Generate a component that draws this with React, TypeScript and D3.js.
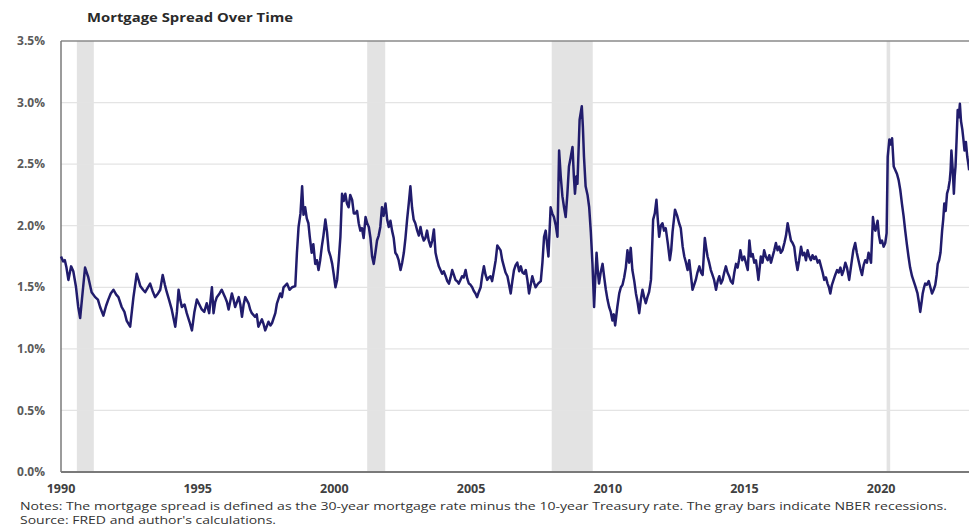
import React from 'react';
import * as d3 from 'd3';

// Mortgage spread (30-yr mortgage minus 10-yr Treasury), [year, %]
const spread: [number, number][] = [
  [1990.0, 1.75], [1990.08, 1.71], [1990.14, 1.72], [1990.2, 1.66], [1990.27, 1.56], [1990.37, 1.67], [1990.45, 1.63], [1990.55, 1.5],
  [1990.63, 1.34], [1990.7, 1.25], [1990.8, 1.48], [1990.88, 1.66], [1991.0, 1.58], [1991.12, 1.46], [1991.25, 1.42], [1991.35, 1.4],
  [1991.43, 1.34], [1991.55, 1.27], [1991.65, 1.35], [1991.73, 1.4], [1991.82, 1.45], [1991.92, 1.48], [1992.02, 1.44], [1992.1, 1.42],
  [1992.22, 1.34], [1992.32, 1.3], [1992.4, 1.23], [1992.53, 1.18], [1992.6, 1.32], [1992.65, 1.42], [1992.77, 1.61], [1992.85, 1.55],
  [1992.9, 1.51], [1993.0, 1.48], [1993.08, 1.46], [1993.18, 1.5], [1993.26, 1.53], [1993.35, 1.47], [1993.44, 1.42], [1993.55, 1.45],
  [1993.63, 1.48], [1993.72, 1.6], [1993.8, 1.52], [1993.87, 1.46], [1993.95, 1.4], [1994.05, 1.32], [1994.18, 1.18], [1994.24, 1.3],
  [1994.3, 1.48], [1994.36, 1.4], [1994.42, 1.34], [1994.52, 1.36], [1994.6, 1.29], [1994.7, 1.22], [1994.79, 1.15], [1994.88, 1.3],
  [1994.97, 1.4], [1995.06, 1.36], [1995.15, 1.32], [1995.24, 1.3], [1995.33, 1.37], [1995.42, 1.29], [1995.52, 1.5], [1995.58, 1.29],
  [1995.64, 1.38], [1995.7, 1.42], [1995.8, 1.45], [1995.88, 1.48], [1996.0, 1.42], [1996.07, 1.38], [1996.13, 1.32], [1996.25, 1.45],
  [1996.31, 1.4], [1996.37, 1.34], [1996.5, 1.42], [1996.56, 1.36], [1996.62, 1.26], [1996.68, 1.36], [1996.74, 1.42], [1996.86, 1.37],
  [1996.92, 1.32], [1996.98, 1.29], [1997.1, 1.26], [1997.16, 1.28], [1997.22, 1.18], [1997.35, 1.24], [1997.41, 1.2], [1997.47, 1.15],
  [1997.59, 1.22], [1997.66, 1.19], [1997.72, 1.21], [1997.84, 1.29], [1997.9, 1.37], [1998.02, 1.45], [1998.08, 1.42], [1998.14, 1.5],
  [1998.27, 1.53], [1998.36, 1.48], [1998.45, 1.5], [1998.57, 1.51], [1998.63, 1.78], [1998.69, 1.99], [1998.76, 2.1], [1998.82, 2.32],
  [1998.87, 2.09], [1998.93, 2.15], [1998.99, 2.06], [1999.05, 2.02], [1999.1, 1.91], [1999.17, 1.78], [1999.23, 1.85], [1999.3, 1.69],
  [1999.36, 1.72], [1999.42, 1.64], [1999.48, 1.72], [1999.54, 1.83], [1999.6, 1.92], [1999.67, 2.05], [1999.73, 1.95], [1999.79, 1.8],
  [1999.86, 1.75], [1999.92, 1.69], [1999.98, 1.6], [2000.04, 1.5], [2000.1, 1.56], [2000.16, 1.72], [2000.22, 1.91], [2000.28, 2.26],
  [2000.34, 2.2], [2000.4, 2.26], [2000.46, 2.18], [2000.52, 2.15], [2000.58, 2.25], [2000.65, 2.21], [2000.71, 2.1], [2000.77, 2.1],
  [2000.83, 2.12], [2000.89, 2.02], [2000.95, 1.96], [2001.01, 1.98], [2001.07, 1.9], [2001.14, 2.07], [2001.2, 2.02], [2001.26, 1.99],
  [2001.32, 1.9], [2001.38, 1.75], [2001.44, 1.69], [2001.5, 1.78], [2001.56, 1.88], [2001.62, 1.92], [2001.68, 1.99], [2001.74, 2.15],
  [2001.8, 2.08], [2001.87, 2.18], [2001.93, 2.05], [2001.99, 1.99], [2002.05, 2.04], [2002.11, 1.96], [2002.17, 1.9], [2002.23, 1.78],
  [2002.29, 1.76], [2002.35, 1.72], [2002.42, 1.64], [2002.48, 1.7], [2002.54, 1.78], [2002.6, 1.9], [2002.66, 2.05], [2002.72, 2.18],
  [2002.78, 2.32], [2002.84, 2.15], [2002.9, 2.05], [2002.96, 2.02], [2003.03, 1.96], [2003.09, 1.92], [2003.15, 1.99], [2003.21, 1.92],
  [2003.27, 1.88], [2003.33, 1.9], [2003.39, 1.96], [2003.45, 1.88], [2003.52, 1.83], [2003.58, 1.88], [2003.64, 1.97], [2003.7, 1.78],
  [2003.76, 1.72], [2003.82, 1.67], [2003.88, 1.64], [2003.94, 1.61], [2004.0, 1.63], [2004.07, 1.59], [2004.13, 1.55], [2004.19, 1.53],
  [2004.25, 1.58], [2004.31, 1.64], [2004.37, 1.6], [2004.43, 1.56], [2004.49, 1.55], [2004.55, 1.53], [2004.61, 1.56], [2004.67, 1.59],
  [2004.73, 1.58], [2004.8, 1.64], [2004.86, 1.57], [2004.92, 1.53], [2004.98, 1.52], [2005.04, 1.5], [2005.1, 1.47], [2005.16, 1.45],
  [2005.22, 1.42], [2005.28, 1.46], [2005.35, 1.5], [2005.41, 1.6], [2005.47, 1.67], [2005.53, 1.6], [2005.59, 1.56], [2005.65, 1.58],
  [2005.71, 1.59], [2005.77, 1.55], [2005.84, 1.64], [2005.9, 1.72], [2005.96, 1.84], [2006.02, 1.82], [2006.08, 1.8], [2006.14, 1.72],
  [2006.2, 1.67], [2006.26, 1.62], [2006.33, 1.59], [2006.39, 1.52], [2006.45, 1.45], [2006.51, 1.55], [2006.57, 1.64], [2006.63, 1.68],
  [2006.69, 1.7], [2006.76, 1.63], [2006.82, 1.67], [2006.88, 1.62], [2006.94, 1.61], [2007.0, 1.64], [2007.06, 1.56], [2007.12, 1.45],
  [2007.18, 1.52], [2007.24, 1.59], [2007.3, 1.54], [2007.36, 1.5], [2007.45, 1.53], [2007.55, 1.55], [2007.61, 1.7], [2007.67, 1.91],
  [2007.73, 1.96], [2007.78, 1.85], [2007.83, 1.75], [2007.87, 1.95], [2007.91, 2.15], [2007.97, 2.1], [2008.03, 2.07], [2008.1, 2.0],
  [2008.16, 1.91], [2008.22, 2.61], [2008.28, 2.4], [2008.34, 2.24], [2008.4, 2.15], [2008.46, 2.07], [2008.52, 2.25], [2008.58, 2.48],
  [2008.64, 2.55], [2008.71, 2.64], [2008.76, 2.4], [2008.8, 2.26], [2008.85, 2.4], [2008.89, 2.34], [2008.93, 2.6], [2008.97, 2.86],
  [2009.05, 2.97], [2009.09, 2.8], [2009.13, 2.56], [2009.19, 2.32], [2009.26, 2.25], [2009.32, 2.15], [2009.38, 1.95], [2009.44, 1.69],
  [2009.5, 1.34], [2009.55, 1.6], [2009.59, 1.78], [2009.64, 1.62], [2009.68, 1.53], [2009.74, 1.62], [2009.81, 1.69], [2009.87, 1.58],
  [2009.93, 1.48], [2009.99, 1.4], [2010.05, 1.34], [2010.11, 1.3], [2010.17, 1.23], [2010.22, 1.28], [2010.27, 1.19], [2010.35, 1.34],
  [2010.42, 1.45], [2010.48, 1.5], [2010.54, 1.52], [2010.6, 1.58], [2010.66, 1.66], [2010.72, 1.8], [2010.78, 1.7], [2010.84, 1.82],
  [2010.9, 1.64], [2010.97, 1.55], [2011.03, 1.45], [2011.09, 1.38], [2011.15, 1.29], [2011.21, 1.4], [2011.27, 1.48], [2011.33, 1.42],
  [2011.39, 1.37], [2011.45, 1.42], [2011.51, 1.46], [2011.58, 1.56], [2011.66, 2.05], [2011.72, 2.1], [2011.78, 2.21], [2011.83, 2.05],
  [2011.88, 1.91], [2011.94, 2.0], [2012.0, 2.02], [2012.06, 1.96], [2012.12, 1.98], [2012.2, 1.85], [2012.27, 1.72], [2012.32, 1.8],
  [2012.37, 1.95], [2012.46, 2.13], [2012.54, 2.08], [2012.61, 2.02], [2012.67, 1.98], [2012.74, 1.83], [2012.8, 1.75], [2012.86, 1.7],
  [2012.92, 1.64], [2012.98, 1.72], [2013.04, 1.6], [2013.1, 1.48], [2013.16, 1.52], [2013.22, 1.56], [2013.28, 1.62], [2013.35, 1.67],
  [2013.41, 1.62], [2013.47, 1.6], [2013.55, 1.9], [2013.6, 1.82], [2013.65, 1.75], [2013.71, 1.7], [2013.77, 1.64], [2013.83, 1.6],
  [2013.89, 1.56], [2013.96, 1.48], [2014.02, 1.55], [2014.08, 1.59], [2014.14, 1.53], [2014.2, 1.56], [2014.26, 1.62], [2014.32, 1.67],
  [2014.38, 1.62], [2014.44, 1.59], [2014.5, 1.55], [2014.57, 1.53], [2014.63, 1.62], [2014.69, 1.69], [2014.75, 1.66], [2014.8, 1.72],
  [2014.85, 1.8], [2014.92, 1.72], [2014.99, 1.75], [2015.05, 1.7], [2015.12, 1.64], [2015.18, 1.88], [2015.24, 1.75], [2015.3, 1.77],
  [2015.36, 1.7], [2015.42, 1.72], [2015.48, 1.62], [2015.51, 1.56], [2015.6, 1.75], [2015.66, 1.7], [2015.72, 1.8], [2015.78, 1.75],
  [2015.85, 1.72], [2015.91, 1.76], [2015.97, 1.7], [2016.03, 1.75], [2016.09, 1.8], [2016.15, 1.86], [2016.21, 1.8], [2016.27, 1.83],
  [2016.33, 1.78], [2016.39, 1.8], [2016.46, 1.86], [2016.52, 1.92], [2016.58, 2.02], [2016.64, 1.95], [2016.7, 1.88], [2016.76, 1.86],
  [2016.82, 1.83], [2016.88, 1.72], [2016.94, 1.64], [2017.0, 1.72], [2017.07, 1.83], [2017.13, 1.76], [2017.19, 1.78], [2017.25, 1.72],
  [2017.31, 1.8], [2017.37, 1.75], [2017.43, 1.72], [2017.49, 1.76], [2017.55, 1.73], [2017.61, 1.75], [2017.68, 1.7], [2017.74, 1.72],
  [2017.8, 1.67], [2017.86, 1.62], [2017.92, 1.56], [2017.98, 1.58], [2018.04, 1.53], [2018.09, 1.5], [2018.14, 1.45], [2018.2, 1.52],
  [2018.26, 1.56], [2018.32, 1.6], [2018.39, 1.64], [2018.45, 1.62], [2018.51, 1.66], [2018.57, 1.6], [2018.63, 1.64], [2018.69, 1.7],
  [2018.75, 1.66], [2018.83, 1.56], [2018.93, 1.72], [2018.98, 1.8], [2019.05, 1.86], [2019.11, 1.78], [2019.17, 1.72], [2019.24, 1.65],
  [2019.3, 1.6], [2019.36, 1.68], [2019.42, 1.72], [2019.48, 1.7], [2019.54, 1.78], [2019.6, 1.73], [2019.63, 1.7], [2019.7, 2.07],
  [2019.75, 1.98], [2019.79, 1.96], [2019.83, 2.0], [2019.87, 2.04], [2019.92, 1.92], [2019.97, 1.86], [2020.03, 1.88], [2020.09, 1.83],
  [2020.15, 1.86], [2020.2, 1.94], [2020.24, 2.56], [2020.3, 2.7], [2020.35, 2.66], [2020.4, 2.71], [2020.46, 2.48], [2020.52, 2.45],
  [2020.58, 2.42], [2020.64, 2.37], [2020.7, 2.29], [2020.76, 2.18], [2020.82, 2.08], [2020.88, 1.96], [2020.94, 1.85], [2021.0, 1.75],
  [2021.06, 1.66], [2021.13, 1.59], [2021.19, 1.55], [2021.25, 1.51], [2021.33, 1.45], [2021.38, 1.38], [2021.43, 1.3], [2021.48, 1.38],
  [2021.52, 1.45], [2021.57, 1.5], [2021.61, 1.53], [2021.67, 1.52], [2021.74, 1.55], [2021.8, 1.5], [2021.86, 1.45], [2021.92, 1.48],
  [2021.98, 1.52], [2022.03, 1.6], [2022.07, 1.69], [2022.12, 1.72], [2022.17, 1.78], [2022.23, 1.96], [2022.27, 2.05], [2022.31, 2.18],
  [2022.36, 2.12], [2022.41, 2.26], [2022.46, 2.3], [2022.51, 2.37], [2022.54, 2.45], [2022.57, 2.61], [2022.62, 2.45], [2022.66, 2.26],
  [2022.69, 2.4], [2022.72, 2.48], [2022.76, 2.7], [2022.8, 2.94], [2022.84, 2.88], [2022.88, 2.99], [2022.92, 2.85], [2022.97, 2.78],
  [2023.01, 2.7], [2023.05, 2.61], [2023.1, 2.68], [2023.15, 2.56], [2023.19, 2.5], [2023.22, 2.45],
];

// NBER recessions [start, end] in decimal years
const recessions: [number, number][] = [
  [1990.58, 1991.2],
  [2001.2, 2001.86],
  [2007.95, 2009.45],
  [2020.2, 2020.33],
];

const yTicks = [0, 0.5, 1, 1.5, 2, 2.5, 3, 3.5];
const xTicks = [1990, 1995, 2000, 2005, 2010, 2015, 2020];

const title = 'Mortgage Spread Over Time';
const notes = 'Notes: The mortgage spread is defined as the 30-year mortgage rate minus the 10-year Treasury rate. The gray bars indicate NBER recessions.';
const source = "Source: FRED and author's calculations.";

const W = 969;
const H = 527;
const font = "'Open Sans', 'Liberation Sans', sans-serif";

const App: React.FC = () => {
  const x = d3.scaleLinear().domain([1990, 2023.25]).range([61, 970]);
  const y = d3.scaleLinear().domain([0, 3.5]).range([472, 41]);

  const line = d3.line<[number, number]>()
    .x(d => x(d[0]))
    .y(d => y(d[1]));

  const [y0, y1] = y.range();

  return (
    <svg width={W} height={H} style={{ position: 'absolute', left: 0, top: 0, background: '#fff' }}>
      <rect width={W} height={H} fill="#fff" />

      {/* recession bars */}
      {recessions.map(([a, b], i) => (
        <rect key={i} x={x(a)} y={y1} width={x(b) - x(a)} height={y0 - y1} fill="#e3e3e3" />
      ))}

      {/* gridlines */}
      {yTicks.slice(1, -1).map(t => (
        <line key={t} x1={x.range()[0]} x2={W} y1={y(t)} y2={y(t)} stroke="#e4e4e4" strokeWidth={1.2} />
      ))}

      {/* frame */}
      <line x1={x.range()[0]} x2={W} y1={y(3.5)} y2={y(3.5)} stroke="#8a8a8a" strokeWidth={1.3} />
      <line x1={x.range()[0]} x2={x.range()[0]} y1={y1} y2={y0} stroke="#7a7a7a" strokeWidth={1.5} />
      <line x1={x.range()[0]} x2={W} y1={y0} y2={y0} stroke="#7a7a7a" strokeWidth={1.8} />

      {/* series */}
      <path d={line(spread) || ''} fill="none" stroke="#211c6c" strokeWidth={2.5} strokeLinejoin="round" />

      {/* y labels */}
      {yTicks.map(t => (
        <text key={t} x={45} y={y(t)} dy="0.35em" textAnchor="end" fontFamily={font} fontWeight={700}
          fontSize={12} fill="#5a5a5a">{`${t.toFixed(1)}%`}</text>
      ))}

      {/* x labels */}
      {xTicks.map(t => (
        <text key={t} x={x(t)} y={493} textAnchor="middle" fontFamily={font} fontWeight={700}
          fontSize={12.5} fill="#404040">{t}</text>
      ))}

      <text x={87} y={22} fontFamily={font} fontWeight={700} fontSize={12.5} fill="#2a2a2a"
        textLength={206} lengthAdjust="spacingAndGlyphs">{title}</text>

      <text x={20} y={509.5} fontFamily={font} fontSize={11} fill="#333"
        textLength={927} lengthAdjust="spacingAndGlyphs">{notes}</text>
      <text x={20} y={523.8} fontFamily={font} fontSize={11} fill="#333"
        textLength={256} lengthAdjust="spacingAndGlyphs">{source}</text>
    </svg>
  );
};

export default App;
